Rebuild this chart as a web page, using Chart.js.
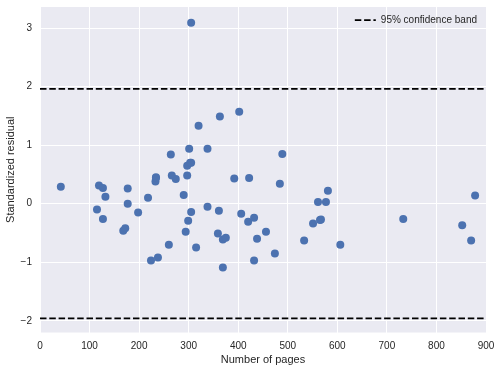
<!DOCTYPE html>
<html>
<head>
<meta charset="utf-8">
<script src="https://cdn.jsdelivr.net/npm/chart.js@4/dist/chart.umd.min.js"></script>
<style>
  html, body { margin: 0; padding: 0; background: #ffffff; }
  #wrap { width: 501px; height: 371px; }
</style>
</head>
<body>
<div id="wrap"><canvas id="residChart" width="501" height="371"></canvas></div>
<script>
(function() {
    'use strict';

    // number of pages per book
    const pages = [
        42, 115, 119, 127, 127, 132, 168, 172, 177, 177,
        198, 218, 224, 233, 234, 234, 238, 260, 264, 266,
        274, 290, 294, 297, 297, 299, 301, 303, 305, 305,
        305, 315, 320, 338, 338, 359, 361, 363, 369, 369,
        375, 392, 402, 406, 420, 422, 432, 432, 438, 456,
        474, 484, 489, 533, 551, 561, 565, 567, 577, 581,
        606, 733, 852, 870, 878
    ];

    // standardized residuals, same order as pages
    const residuals = [
        0.29, -0.10, 0.31, 0.27, -0.26, 0.12, -0.46, -0.42, 0.26, 0.00,
        -0.15, 0.10, -0.97, 0.38, 0.44, 0.45, -0.92, -0.70, 0.84, 0.48,
        0.42, 0.15, -0.48, 0.48, 0.65, -0.29, 0.94, 0.70, -0.14, 3.09,
        0.70, -0.75, 1.33, 0.94, -0.05, -0.51, -0.12, 1.49, -0.61, -1.09,
        -0.58, 0.43, 1.57, -0.17, -0.31, 0.44, -0.24, -0.97, -0.60, -0.48,
        -0.85, 0.34, 0.85, -0.63, -0.34, 0.03, -0.28, -0.27, 0.03, 0.22,
        -0.70, -0.26, -0.37, -0.63, 0.14
    ];

    const xTicks = [0, 100, 200, 300, 400, 500, 600, 700, 800, 900];
    const yTicks = [-2, -1, 0, 1, 2, 3];
    const bandLimit = 1.96;
    const bandLabel = '95% confidence band';

    const scatterPts = pages.map((p, i) => ({ x: p, y: residuals[i] }));

    const textColor = '#262626';
    const fontFamily = '"Liberation Sans", Arial, sans-serif';

    // grey plot background like seaborn darkgrid
    const plotBg = {
        id: 'plotBg',
        beforeDraw(chart) {
            const a = chart.chartArea;
            const ctx = chart.ctx;
            ctx.save();
            ctx.fillStyle = '#EAEAF2';
            ctx.fillRect(a.left, a.top, a.right - a.left, a.bottom - a.top);
            ctx.restore();
        }
    };

    // frameless legend in the top right corner
    const bandLegend = {
        id: 'bandLegend',
        afterDraw(chart) {
            const a = chart.chartArea;
            const ctx = chart.ctx;
            ctx.save();
            ctx.font = '10px ' + fontFamily;
            const tw = ctx.measureText(bandLabel).width;
            const textX = a.right - 9 - tw;
            const y = a.top + 13;
            ctx.strokeStyle = '#000000';
            ctx.lineWidth = 1.75;
            ctx.setLineDash([6.5, 2.8]);
            ctx.beginPath();
            ctx.moveTo(textX - 26, y);
            ctx.lineTo(textX - 5, y);
            ctx.stroke();
            ctx.setLineDash([]);
            ctx.fillStyle = textColor;
            ctx.textBaseline = 'middle';
            ctx.textAlign = 'left';
            ctx.fillText(bandLabel, textX, y);
            ctx.restore();
        }
    };

    const bandLine = (v) => ({
        type: 'line',
        label: bandLabel,
        data: [{ x: 0, y: v }, { x: 900, y: v }],
        borderColor: '#000000',
        borderWidth: 1.75,
        borderDash: [6.5, 2.8],
        pointRadius: 0,
        fill: false,
        order: 1
    });

    // keep the plot box where the layout padding puts it
    const noLabelPad = (s) => {
        s.paddingTop = 0;
        s.paddingBottom = 0;
        s.paddingLeft = 0;
        s.paddingRight = 0;
    };

    const el = document.getElementById('residChart');

    new Chart(el.getContext('2d'), {
        type: 'scatter',
        data: {
            datasets: [
                {
                    label: 'residuals',
                    data: scatterPts,
                    backgroundColor: '#4C72B0',
                    borderWidth: 0,
                    pointRadius: 4,
                    pointHoverRadius: 4,
                    order: 2
                },
                bandLine(bandLimit),
                bandLine(-bandLimit)
            ]
        },
        options: {
            responsive: false,
            animation: false,
            layout: { padding: { top: 7, right: 15, bottom: 0, left: 0 } },
            plugins: {
                legend: { display: false },
                tooltip: { enabled: false }
            },
            scales: {
                x: {
                    type: 'linear',
                    min: 0,
                    max: 900,
                    afterBuildTicks: (s) => { s.ticks = xTicks.map(v => ({ value: v })); },
                    afterFit: (s) => { s.height = 38.5; noLabelPad(s); },
                    grid: { color: '#ffffff', lineWidth: 1, drawTicks: false },
                    border: { display: false },
                    ticks: {
                        padding: 8,
                        color: textColor,
                        font: { family: fontFamily, size: 10 },
                        maxRotation: 0
                    },
                    title: {
                        display: true,
                        text: 'Number of pages',
                        color: textColor,
                        font: { family: fontFamily, size: 11 },
                        padding: { top: 0, bottom: 4 }
                    }
                },
                y: {
                    type: 'linear',
                    min: -2.2,
                    max: 3.36,
                    afterBuildTicks: (s) => { s.ticks = yTicks.map(v => ({ value: v })); },
                    afterFit: (s) => { s.width = 40; noLabelPad(s); },
                    grid: { color: '#ffffff', lineWidth: 1, drawTicks: false },
                    border: { display: false },
                    ticks: {
                        padding: 8,
                        color: textColor,
                        font: { family: fontFamily, size: 10 },
                        callback: (v) => (v < 0 ? '\u2212' + Math.abs(v) : String(v))
                    },
                    title: {
                        display: true,
                        text: 'Standardized residual',
                        color: textColor,
                        font: { family: fontFamily, size: 11 },
                        padding: { top: 4, bottom: 0 }
                    }
                }
            }
        },
        plugins: [plotBg, bandLegend]
    });
})();
</script>
</body>
</html>
